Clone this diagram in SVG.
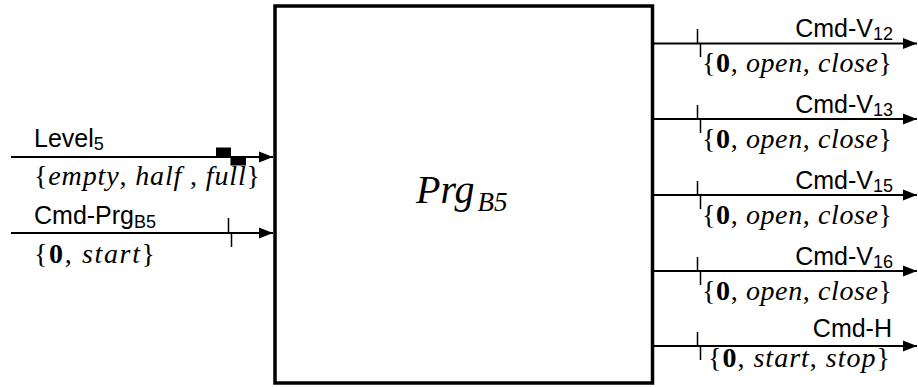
<svg xmlns="http://www.w3.org/2000/svg" width="918" height="387" viewBox="0 0 918 387">
<style>
.lbl{font-family:"Liberation Sans",Arial,sans-serif;font-size:25px;fill:#000}
.sub{font-size:18px}
.set{font-family:"Liberation Serif","Times New Roman",serif;font-size:28px;fill:#000}
.it{font-style:italic}
.bf{font-weight:bold}
.ln{stroke:#000;stroke-width:2;fill:none}
.tk{stroke:#000;stroke-width:1.5;fill:none}
</style>
<defs>
<marker id="ah" markerUnits="userSpaceOnUse" markerWidth="15" markerHeight="12" refX="14" refY="6" orient="auto">
<path d="M0,0.5 L14,6 L0,11.5 Z" fill="#000"/>
</marker>
</defs>
<g id="block">
<rect x="275" y="6" width="377.5" height="377" fill="#fff" stroke="#000" stroke-width="3.5"/>
<text x="416" y="203" font-family="'Liberation Serif','Times New Roman',serif" font-style="italic" font-size="40">Prg<tspan font-size="27" dx="3" dy="8">B5</tspan></text>
</g>
<g id="connectors">
<line class="ln" x1="11" y1="157" x2="273" y2="157" marker-end="url(#ah)"/>
<line class="ln" x1="11" y1="233" x2="273" y2="233" marker-end="url(#ah)"/>
<line class="ln" x1="654" y1="43.5" x2="917" y2="43.5" marker-end="url(#ah)"/>
<line class="ln" x1="654" y1="119" x2="917" y2="119" marker-end="url(#ah)"/>
<line class="ln" x1="654" y1="195" x2="917" y2="195" marker-end="url(#ah)"/>
<line class="ln" x1="654" y1="271" x2="917" y2="271" marker-end="url(#ah)"/>
<line class="ln" x1="654" y1="346" x2="917" y2="346" marker-end="url(#ah)"/>
<path class="tk" d="M228.5,218 V233 M231.5,233 V247"/>
<path class="tk" d="M697.5,29 V43.5 M700.5,43.5 V57"/>
<path class="tk" d="M697.5,105 V119 M700.5,119 V133"/>
<path class="tk" d="M697.5,181 V195 M700.5,195 V209"/>
<path class="tk" d="M697.5,257 V271 M700.5,271 V285"/>
<path class="tk" d="M697.5,332 V346 M700.5,346 V360"/>
<rect x="216" y="147.5" width="15" height="9.5" fill="#000"/>
<rect x="230.5" y="157" width="15.5" height="8.5" fill="#000"/>
</g>
<g id="in-level">
<text class="lbl" x="34" y="147">Level<tspan class="sub" dy="3">5</tspan></text>
<text class="set" x="34" y="185" textLength="226" lengthAdjust="spacing">{<tspan class="it">empty</tspan>, <tspan class="it">half</tspan> , <tspan class="it">full</tspan>}</text>
</g>
<g id="in-cmdprg">
<text class="lbl" x="34" y="224">Cmd-Prg<tspan class="sub" dy="4">B5</tspan></text>
<text class="set" x="34" y="263" textLength="121" lengthAdjust="spacing">{<tspan class="bf">0</tspan>, <tspan class="it">start</tspan>}</text>
</g>
<g id="out-v12">
<text class="lbl" x="893" y="37" text-anchor="end">Cmd-V<tspan class="sub" dy="3">12</tspan></text>
<text class="set" x="702" y="72" textLength="190" lengthAdjust="spacing">{<tspan class="bf">0</tspan>, <tspan class="it">open</tspan>, <tspan class="it">close</tspan>}</text>
</g>
<g id="out-v13">
<text class="lbl" x="893" y="112.5" text-anchor="end">Cmd-V<tspan class="sub" dy="3">13</tspan></text>
<text class="set" x="702" y="148" textLength="190" lengthAdjust="spacing">{<tspan class="bf">0</tspan>, <tspan class="it">open</tspan>, <tspan class="it">close</tspan>}</text>
</g>
<g id="out-v15">
<text class="lbl" x="893" y="188.5" text-anchor="end">Cmd-V<tspan class="sub" dy="3">15</tspan></text>
<text class="set" x="702" y="224" textLength="190" lengthAdjust="spacing">{<tspan class="bf">0</tspan>, <tspan class="it">open</tspan>, <tspan class="it">close</tspan>}</text>
</g>
<g id="out-v16">
<text class="lbl" x="893" y="264.5" text-anchor="end">Cmd-V<tspan class="sub" dy="3">16</tspan></text>
<text class="set" x="702" y="300" textLength="190" lengthAdjust="spacing">{<tspan class="bf">0</tspan>, <tspan class="it">open</tspan>, <tspan class="it">close</tspan>}</text>
</g>
<g id="out-h">
<text class="lbl" x="892" y="337" text-anchor="end">Cmd-H</text>
<text class="set" x="708" y="367" textLength="182" lengthAdjust="spacing">{<tspan class="bf">0</tspan>, <tspan class="it">start</tspan>, <tspan class="it">stop</tspan>}</text>
</g>
</svg>
